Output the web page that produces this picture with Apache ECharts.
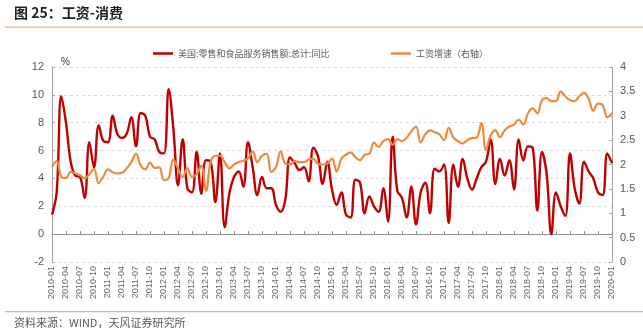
<!DOCTYPE html>
<html>
<head>
<meta charset="utf-8">
<script src="https://cdn.jsdelivr.net/npm/echarts@6/dist/echarts.min.js"></script>
<style>
  html, body { margin: 0; padding: 0; background: #fff; }
  #chart { width: 643px; height: 334px; }
</style>
</head>
<body>
<div id="chart"></div>
<script>
// Monthly categories 2010-01 .. 2020-01
const months = [];
for (let y = 2010; y <= 2020; y++) {
  for (let m = 1; m <= 12; m++) {
    if (y === 2020 && m > 1) break;
    months.push(y + '-' + (m < 10 ? '0' + m : m));
  }
}

// 美国:零售和食品服务销售额:总计:同比 (%), left axis
const retailYoY = [
  1.4, 3.0, 9.9, 8.0, 5.2, 4.2, 4.1, 2.6, 6.6, 4.8, 7.8, 6.7,
  6.6, 8.5, 7.2, 6.9, 7.2, 8.4, 6.3, 8.7, 8.5, 7.0, 6.8, 5.9,
  5.8, 10.4, 7.6, 3.5, 6.8, 3.3, 3.0, 5.9, 2.9, 5.3, 5.2, 2.3,
  5.8, 0.5, 2.9, 4.1, 4.5, 3.4, 6.6, 4.8, 2.8, 4.1, 3.3, 3.3,
  2.1, 1.6, 2.5, 5.5, 5.1, 4.6, 4.8, 3.8, 6.2, 5.6, 3.6, 5.2,
  3.2, 2.1, 3.0, 1.4, 1.2, 3.9, 3.7, 1.5, 2.7, 2.0, 1.6, 3.3,
  0.9, 7.0, 3.1, 2.6, 1.2, 3.4, 0.7, 3.0, 3.7, 1.5, 4.7, 4.5,
  5.0, 0.8, 5.0, 3.4, 5.4, 4.0, 3.2, 4.0, 4.8, 5.2, 6.8, 3.6,
  5.4, 4.2, 5.3, 3.2, 6.8, 5.3, 6.3, 6.2, 1.7, 5.9, 4.3, 0.0,
  3.0, 2.0, 1.3, 5.8, 3.3, 2.2, 5.2, 4.5, 4.0, 3.0, 2.8, 5.8,
  5.1
];

// 工资增速 (%), right axis
const wageGrowth = [
  1.95, 2.07, 1.75, 1.72, 1.85, 1.82, 1.78, 1.72, 1.80, 1.91, 1.62, 1.75,
  1.90, 1.84, 1.82, 1.83, 1.92, 2.05, 2.22, 1.98, 1.90, 2.04, 1.93, 1.94,
  1.68, 1.72, 2.10, 1.92, 1.74, 1.92, 1.75, 1.80, 1.98, 1.46, 2.05, 2.18,
  2.18, 2.05, 1.92, 2.00, 2.05, 2.08, 2.12, 2.27, 2.05, 2.18, 2.22, 1.85,
  1.95, 2.27, 2.02, 2.00, 2.07, 2.05, 2.05, 2.10, 2.12, 2.01, 2.00, 2.02,
  2.12, 1.86, 2.12, 2.20, 2.25, 2.15, 2.09, 2.20, 2.22, 2.45, 2.36, 2.48,
  2.52, 2.40, 2.52, 2.48, 2.55, 2.68, 2.78, 2.45, 2.62, 2.70, 2.66, 2.62,
  2.50, 2.75, 2.55, 2.48, 2.43, 2.50, 2.54, 2.55, 2.85, 2.30, 2.60, 2.70,
  2.56, 2.70, 2.78, 2.82, 2.92, 2.82, 3.05, 3.15, 3.05, 3.32, 3.36, 3.30,
  3.30, 3.50, 3.40, 3.32, 3.30, 3.40, 3.47, 3.35, 3.10, 3.25, 3.22, 2.97,
  3.06
];

const seriesNames = ['美国:零售和食品服务销售额:总计:同比', '工资增速（右轴）'];
const titleText = '图 25：工资-消费';
const sourceText = '资料来源：WIND，天风证券研究所';

const RED = '#C00000';
const ORANGE = '#EE8A3E';
const TEXT = '#595959';
const FONT = '"Liberation Sans", "Noto Sans CJK SC", sans-serif';
const CJK = '"Noto Sans CJK SC", sans-serif';

const chart = echarts.init(document.getElementById('chart'), null, { renderer: 'canvas' });

chart.setOption({
  backgroundColor: '#fff',
  animation: false,
  textStyle: { fontFamily: FONT },
  graphic: [
    { type: 'text', left: 14, top: 6,
      style: { text: titleText, font: 'bold 14px ' + CJK, fill: '#222' } },
    { type: 'rect', shape: { x: 5, y: 26.5, width: 638, height: 1.2 },
      style: { fill: '#F2B07A' } },
    { type: 'rect', shape: { x: 5, y: 311, width: 638, height: 1.2 },
      style: { fill: '#F2B07A' } },
    { type: 'text', left: 14, top: 317,
      style: { text: sourceText, font: '11px ' + CJK, fill: TEXT } }
  ],
  legend: [
    { data: [{ name: seriesNames[0], icon: 'rect' }], left: 148, top: 44,
      itemWidth: 20, itemHeight: 2.5,
      textStyle: { fontSize: 9, color: TEXT, fontFamily: CJK } },
    { data: [{ name: seriesNames[1], icon: 'rect' }], left: 386, top: 44,
      itemWidth: 20, itemHeight: 2.5,
      textStyle: { fontSize: 9, color: TEXT, fontFamily: CJK } }
  ],
  grid: { left: 52, right: 31, top: 67, bottom: 72, containLabel: false },
  xAxis: {
    type: 'category',
    data: months,
    boundaryGap: false,
    axisLine: { onZero: true, onZeroAxisIndex: 0, lineStyle: { color: '#8c8c8c', width: 1 } },
    axisTick: { inside: true, length: 3, interval: 2, alignWithLabel: true, lineStyle: { color: '#8c8c8c' } },
    axisLabel: { interval: 2, rotate: 90, fontSize: 9, color: '#666', margin: 4, fontFamily: FONT },
    splitLine: { show: false }
  },
  yAxis: [
    {
      type: 'value', min: -2, max: 12, interval: 2,
      name: '%', nameLocation: 'end', nameGap: 0,
      nameTextStyle: { color: '#333', fontSize: 10, align: 'left', padding: [0, 0, 0, 9] },
      axisLine: { show: true, lineStyle: { color: '#a6a6a6' } },
      axisTick: { show: true, inside: true, length: 3, lineStyle: { color: '#a6a6a6' } },
      axisLabel: { fontSize: 11, color: TEXT, margin: 8, fontFamily: FONT },
      splitLine: { show: true, lineStyle: { color: '#dadada', type: [3, 3], width: 1 } }
    },
    {
      type: 'value', min: 0, max: 4, interval: 0.5,
      position: 'right',
      axisLine: { show: true, lineStyle: { color: '#a6a6a6' } },
      axisTick: { show: true, inside: true, length: 3, lineStyle: { color: '#a6a6a6' } },
      axisLabel: { fontSize: 11, color: TEXT, margin: 8, fontFamily: FONT },
      splitLine: { show: false }
    }
  ],
  series: [
    {
      name: seriesNames[0], type: 'line', yAxisIndex: 0,
      data: retailYoY, smooth: 0.4, symbol: 'none',
      lineStyle: { color: RED, width: 2.4 }, itemStyle: { color: RED }
    },
    {
      name: seriesNames[1], type: 'line', yAxisIndex: 1,
      data: wageGrowth, smooth: 0.4, symbol: 'none',
      lineStyle: { color: ORANGE, width: 2.2 }, itemStyle: { color: ORANGE }
    }
  ]
});
</script>
</body>
</html>
